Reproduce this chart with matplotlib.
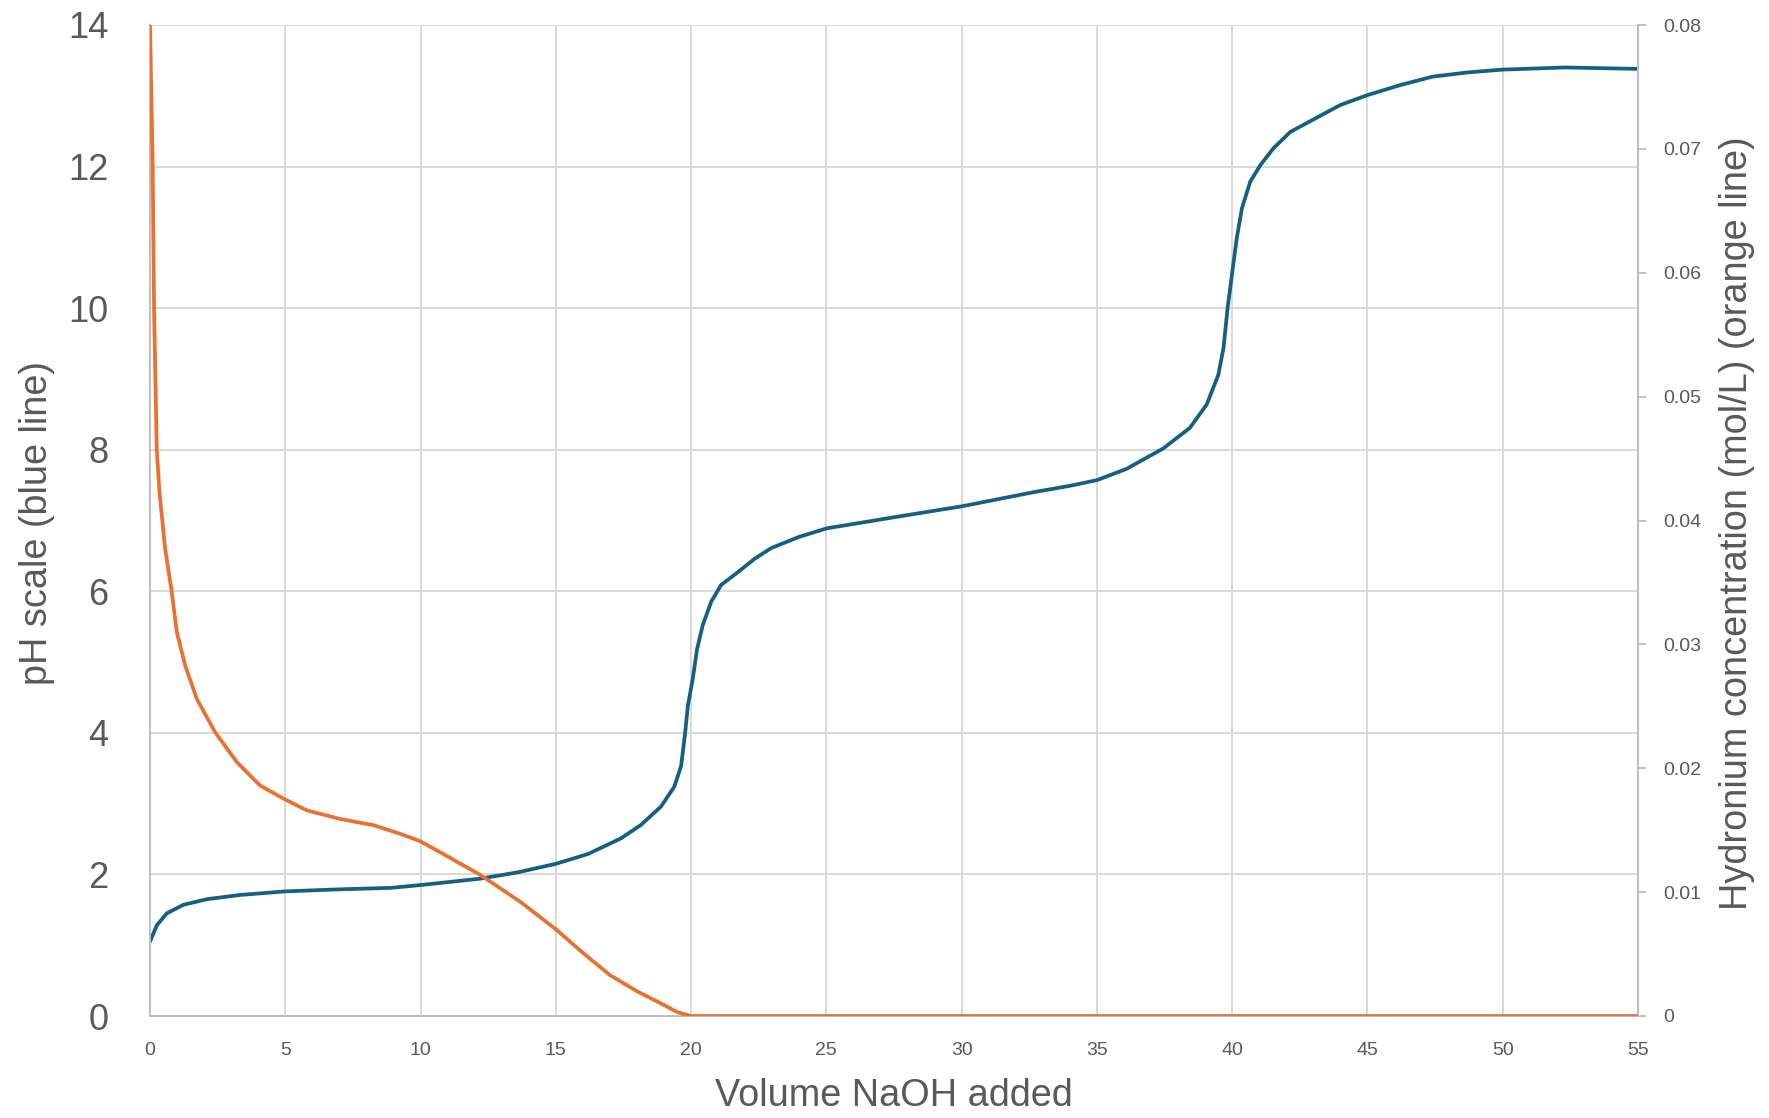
import matplotlib

matplotlib.use("Agg")
import matplotlib.pyplot as plt

# pH titration curve (blue, left axis)
ph_volume = [0, 0.25, 0.62, 1.23, 2.1, 3.33, 4.98, 7.04, 8.9, 10, 10.74, 12.2, 13.6,
             15, 16.2, 17.41, 18.15, 18.89, 19.38, 19.63, 19.78, 19.88, 20.06, 20.22,
             20.43, 20.74, 21.11, 21.73, 22.35, 22.96, 24, 25.02, 26.3, 27.73, 30,
             32.66, 34, 35, 36.1, 37.46, 38.44, 39.06, 39.49, 39.68, 39.83, 39.99,
             40.17, 40.36, 40.67, 41.04, 41.53, 42.15, 43.17, 44, 45, 46.2, 47.4,
             48.7, 50, 52.3, 55]
ph_values = [1.05, 1.28, 1.45, 1.57, 1.65, 1.71, 1.76, 1.79, 1.81, 1.85, 1.88, 1.94, 2.03,
             2.15, 2.29, 2.51, 2.70, 2.96, 3.24, 3.53, 4.0, 4.38, 4.76, 5.18,
             5.52, 5.85, 6.09, 6.27, 6.46, 6.61, 6.77, 6.89, 6.97, 7.06, 7.2,
             7.4, 7.49, 7.57, 7.73, 8.02, 8.31, 8.64, 9.06, 9.44, 10.0, 10.47,
             10.99, 11.41, 11.79, 12.02, 12.26, 12.49, 12.7, 12.87, 13.01, 13.15, 13.27,
             13.33, 13.37, 13.4, 13.38]

# hydronium concentration (orange, right axis), mol/L
h3o_volume = [0, 0.1, 0.15, 0.25, 0.35, 0.56, 0.8, 0.99, 1.3, 1.73, 2.41, 3.21, 4.07,
              4.98, 5.8, 7.04, 8.27, 9.26, 10, 10.74, 12.2, 13.7, 15, 16, 17, 18,
              18.9, 19.5, 20, 25, 30, 35, 40, 45, 50, 55]
h3o_values = [0.08, 0.0686, 0.0571, 0.0457, 0.0423, 0.0377, 0.0343, 0.031, 0.0283,
              0.0256, 0.0229, 0.0205, 0.0186, 0.0175, 0.0166, 0.0159, 0.0154, 0.0147,
              0.0141, 0.0132, 0.0114, 0.0092, 0.007, 0.0051, 0.0033, 0.002,
              0.001, 0.0003, 0.0, 0.0, 0.0, 0.0, 0.0, 0.0, 0.0, 0.0]

x_ticks = list(range(0, 56, 5))
ph_ticks = list(range(0, 15, 2))
h3o_ticks = [0, 0.01, 0.02, 0.03, 0.04, 0.05, 0.06, 0.07, 0.08]
h3o_tick_labels = ["0", "0.01", "0.02", "0.03", "0.04", "0.05", "0.06", "0.07", "0.08"]

BLUE = "#156082"
ORANGE = "#E97132"
TEXT = "#595959"
GRID = "#D9D9D9"
SPINE = "#BFBFBF"

plt.rcParams["font.family"] = ["Liberation Sans", "DejaVu Sans"]

fig = plt.figure(figsize=(17.69, 11.18), dpi=100, facecolor="white")
ax = fig.add_axes([150 / 1769, 1 - 1016 / 1118, 1488 / 1769, 991 / 1118])
ax2 = ax.twinx()

ax.plot(ph_volume, ph_values, color=BLUE, lw=2.7, solid_capstyle="round",
        solid_joinstyle="round", zorder=3)
ax2.plot(h3o_volume, h3o_values, color=ORANGE, lw=2.7, solid_capstyle="round",
         solid_joinstyle="round", zorder=3)

ax.set_xlim(0, 55)
ax.set_ylim(0, 14)
ax2.set_ylim(0, 0.08)

ax.set_xticks(x_ticks)
ax.set_yticks(ph_ticks)
ax2.set_yticks(h3o_ticks)
ax2.set_yticklabels(h3o_tick_labels)

ax.grid(True, color=GRID, lw=1.4)
ax.set_axisbelow(True)

for a in (ax, ax2):
    a.spines["top"].set_visible(False)
    for side in ("left", "bottom", "right"):
        a.spines[side].set_color(SPINE)
        a.spines[side].set_linewidth(1.4)

ax.tick_params(axis="y", length=0, pad=30, labelsize=26, labelcolor=TEXT)
ax.tick_params(axis="x", length=0, pad=19, labelsize=14, labelcolor=TEXT)
ax2.tick_params(axis="y", length=6, width=1.4, color=SPINE, pad=12,
                labelsize=14, labelcolor=TEXT, direction="out")

fig.text(37 / 1769, 1 - 523 / 1118, "pH scale (blue line)", rotation=90,
         ha="center", va="center", fontsize=27.3, color=TEXT)
fig.text(1737 / 1769, 1 - 523 / 1118, "Hydronium concentration (mol/L) (orange line)",
         rotation=90, ha="center", va="center", fontsize=27.3, color=TEXT)
fig.text(894 / 1769, 1 - 1096 / 1118, "Volume NaOH added",
         ha="center", va="center", fontsize=27.3, color=TEXT)

fig.savefig("out.png", dpi=100, facecolor="white")
plt.close(fig)
